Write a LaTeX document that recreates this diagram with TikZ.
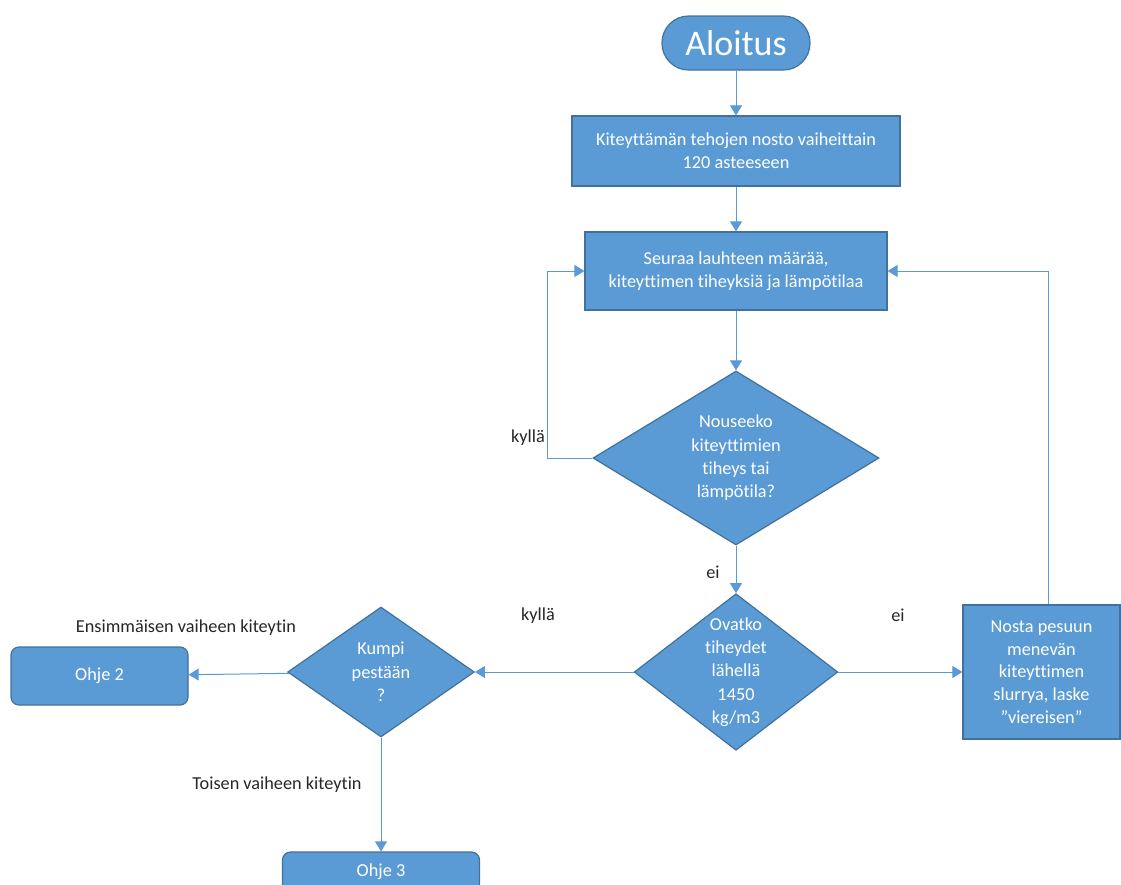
\documentclass[tikz,border=0pt]{standalone}
\usepackage{fontspec}
\setmainfont{Carlito}[Ligatures=CommonOff]
\usepackage[dvipsnames]{xcolor}
\usepackage{tikz}
\usetikzlibrary{shapes.geometric, arrows.meta}
\definecolor{kenno}{HTML}{5B9BD5}
\definecolor{reuna}{HTML}{41719C}

\begin{document}
\begin{tikzpicture}[x=0.75pt, y=-0.75pt,
		laatikko/.style={draw=reuna, line width=0.9pt, fill=kenno, text=white, align=center, inner sep=0pt, font=\fontsize{13.7}{17}\selectfont},
		ehto/.style={laatikko, diamond, aspect=#1, font=\fontsize{13.7}{17.5}\selectfont},
		nuoli/.style={draw=kenno, line width=0.75pt, -{Triangle[length=7.5pt,width=9pt]}},
		selite/.style={text=black!85, font=\fontsize{13.7}{16.5}\selectfont}]
				\useasboundingbox (0,0) rectangle (1121,885);
				\node[laatikko, rounded corners=20pt, minimum width=111pt, minimum height=40.5pt, font=\fontsize{27}{30}\selectfont] (aloitus) at (736,43) {Aloitus};
				\node[laatikko, minimum width=246pt, minimum height=52.5pt] (nosto) at (736,151) {Kiteyttämän tehojen nosto vaiheittain\\120 asteeseen};
				\node[laatikko, minimum width=226.5pt, minimum height=58.5pt] (seuraa) at (736,271) {Seuraa lauhteen määrää,\\kiteyttimen tiheyksiä ja lämpötilaa};
				\node[ehto=1.64, minimum width=214.5pt, minimum height=130.5pt] (nouseeko) at (736,458) {Nouseeko\\kiteyttimien\\tiheys tai\\lämpötila?};
				\node[ehto=1.3, minimum width=151.5pt, minimum height=116pt] (ovatko) at (736,672) {Ovatko\\tiheydet\\lähellä\\1450\\kg/m3};
				\node[laatikko, minimum width=117.75pt, minimum height=100.5pt] (nosta) at (1041.5,672) {Nosta pesuun\\menevän\\kiteyttimen\\slurrya, laske\\”viereisen”};
				\node[ehto=1.44, minimum width=140pt, minimum height=97.5pt] (kumpi) at (381,672) {Kumpi\\pestään\\?};
				\node[laatikko, rounded corners=6pt, minimum width=132.75pt, minimum height=43.5pt] (ohje2) at (99.5,676) {Ohje 2};
				\node[laatikko, rounded corners=6pt, minimum width=147.75pt, minimum height=30pt] (ohje3) at (381,872) {Ohje 3};
				\draw[nuoli] (aloitus) -- (nosto);
				\draw[nuoli] (nosto) -- (seuraa);
				\draw[nuoli] (seuraa) -- (nouseeko);
				\draw[nuoli] (nouseeko.west) -- ++(-45,0) |- (seuraa.west);
				\draw[nuoli] (nouseeko) -- (ovatko);
				\draw[nuoli] (ovatko) -- (nosta);
				\draw[nuoli] ([xshift=5pt]nosta.north) |- (seuraa.east);
				\draw[nuoli] (ovatko) -- (kumpi);
				\draw[nuoli] (kumpi) -- (ohje2);
				\draw[nuoli] (kumpi) -- (ohje3);
				\node[selite] (kylla1) at (528,438) {kyllä};
				\node[selite] (ei1) at (713,572) {ei};
				\node[selite] (kylla2) at (538,616) {kyllä};
				\node[selite] (ei2) at (898,615) {ei};
				\node[selite] (ensimmainen) at (186,628) {Ensimmäisen vaiheen kiteytin};
				\node[selite] (toinen) at (277,785) {Toisen vaiheen kiteytin};
				\end{tikzpicture}
\end{document}
